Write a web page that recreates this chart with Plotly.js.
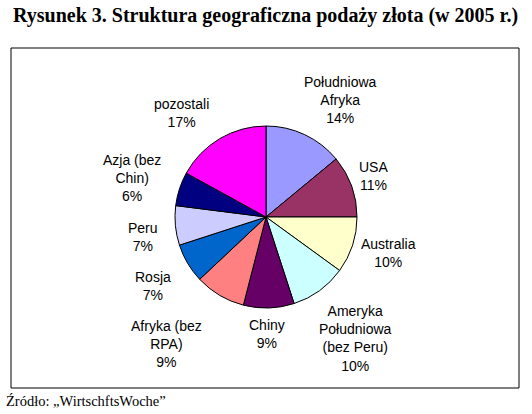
<!DOCTYPE html>
<html><head><meta charset="utf-8">
<script src="https://cdn.plot.ly/plotly-3.0.1.min.js"></script>
<style>html,body{margin:0;padding:0;background:#fff}#chart{width:532px;height:414px}</style>
</head><body><div id="chart"></div>
<script>
const categories = ["Południowa Afryka","USA","Australia","Ameryka Południowa (bez Peru)","Chiny","Afryka (bez RPA)","Rosja","Peru","Azja (bez Chin)","pozostali"];
const displayLabels = ["Południowa<br>Afryka","USA","Australia","Ameryka<br>Południowa<br>(bez Peru)","Chiny","Afryka (bez<br>RPA)","Rosja","Peru","Azja (bez<br>Chin)","pozostali"];
const values = [14,11,10,10,9,9,7,7,6,17];
const colors = ["#9999FF","#993366","#FFFFCC","#CCFFFF","#660066","#FF8080","#0066CC","#CCCCFF","#000080","#FF00FF"];
const titleText = "Rysunek 3. Struktura geograficzna podaży złota (w 2005 r.)";
const sourceText = "Źródło: „WirtschftsWoche”";

// label anchor positions in pixels (layout only)
const labelPos = [[340,100],[373,176],[388,253],[355,338],[267,334],[166,344],[153,286],[143,237],[132,178],[181,113]];
const W=532,H=414;
const total = values.reduce((a,b)=>a+b,0);
const annotations = categories.map((c,i)=>({
  text: displayLabels[i] + "<br>" + Math.round(values[i]/total*100) + "%",
  x: labelPos[i][0]/W, y: 1-labelPos[i][1]/H, xref:'paper', yref:'paper',
  xanchor:'center', yanchor:'middle', showarrow:false, align:'center',
  font:{family:'Liberation Sans, Arial, sans-serif', size:14, color:'#000'}
}));
annotations.push({text:'<b>'+titleText+'</b>', x:265/W, y:1-16/H, xref:'paper', yref:'paper', xanchor:'center', yanchor:'middle', showarrow:false,
  font:{family:'Liberation Serif, Times New Roman, serif', size:20, color:'#000'}});
annotations.push({text:sourceText, x:4/W, y:1-401/H, xref:'paper', yref:'paper', xanchor:'left', yanchor:'middle', showarrow:false,
  font:{family:'Liberation Serif, Times New Roman, serif', size:14.5, color:'#000'}});

const cx=266, cy=217, r=91;
const trace = {
  type:'pie', labels:categories, values:values, sort:false, direction:'clockwise', rotation:0,
  marker:{colors:colors, line:{color:'#000', width:1}},
  textinfo:'none', hoverinfo:'label+percent',
  domain:{x:[(cx-r)/W,(cx+r)/W], y:[1-(cy+r)/H, 1-(cy-r)/H]}
};
const layout = {
  width:W, height:H, margin:{l:0,r:0,t:0,b:0}, showlegend:false,
  paper_bgcolor:'#fff', annotations:annotations,
  shapes:[{type:'rect', xref:'paper', yref:'paper', x0:11/W, x1:519/W, y0:1-388/H, y1:1-48/H, line:{color:'#000', width:1}}]
};
Plotly.newPlot('chart',[trace],layout,{staticPlot:true});
</script></body></html>
